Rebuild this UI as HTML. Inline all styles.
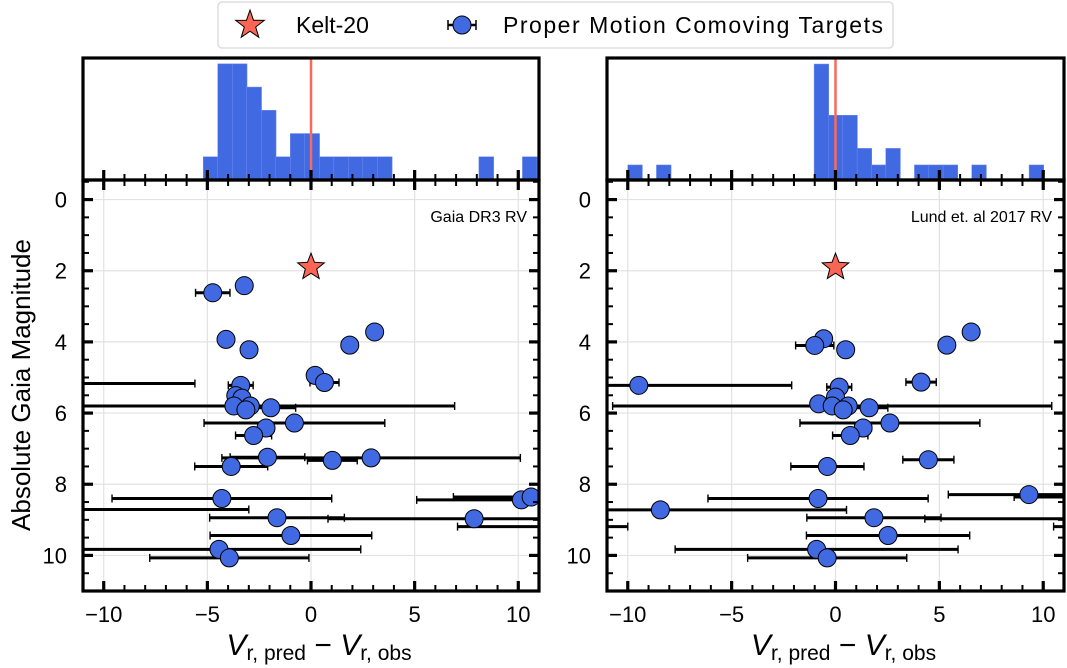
<!DOCTYPE html>
<html><head><meta charset="utf-8"><style>
html,body{margin:0;padding:0;background:#fff;}
svg{display:block;font-family:"Liberation Sans",sans-serif;}
</style></head><body>
<svg id="fig" width="1067" height="668" viewBox="0 0 1067 668" xmlns="http://www.w3.org/2000/svg">
<g>
<rect x="218" y="2" width="675" height="46" rx="4" fill="#fff" stroke="#ddd" stroke-width="1.5"/>
<polygon fill="#fa6555" stroke="#000" stroke-width="1" points="250,10 253.5,20.2 264.3,20.4 255.7,27 258.8,37.3 250,31.2 241.2,37.3 244.3,27 235.7,20.4 246.5,20.2"/>
<text x="296" y="33" font-size="23">Kelt-20</text>
<line x1="448" y1="25" x2="476" y2="25" stroke="#000" stroke-width="2.5"/>
<line x1="448" y1="20" x2="448" y2="30" stroke="#000" stroke-width="1.5"/>
<line x1="476" y1="20" x2="476" y2="30" stroke="#000" stroke-width="1.5"/>
<circle cx="462" cy="25" r="9" fill="#4169e1" stroke="#000" stroke-width="1"/>
<text x="503" y="33" font-size="23" textLength="380">Proper Motion Comoving Targets</text>
</g>
<text transform="translate(30,385) rotate(-90)" text-anchor="middle" font-size="26">Absolute Gaia Magnitude</text>
<g id="panels"></g>
</svg>
<script>
// Left panel (Gaia DR3 RV)
const leftX = [-4.74,-3.22,-4.10,-2.99,1.87,3.07,0.20,0.65,-3.39,-15,-3.63,-3.33,-2.93,-3.72,-3.14,-1.94,-0.80,-2.17,-2.77,-2.10,1.03,2.90,-3.85,-4.30,10.15,10.62,-13,-1.64,7.87,13,-0.97,-4.44,-3.94];
const leftY = [2.62,2.42,3.93,4.22,4.09,3.72,4.94,5.14,5.22,5.17,5.51,5.58,5.80,5.80,5.91,5.85,6.28,6.42,6.63,7.24,7.33,7.26,7.50,8.40,8.44,8.36,8.71,8.94,8.97,9.19,9.44,9.83,10.07];
const leftErr = [0.83,0,0,0.3,0,0,0,0.7,0.6,9.4,0,0,0.3,10.65,0,1.2,4.36,0.4,0.87,1.8,1.2,7.2,1.76,5.3,5.05,3.75,10,3.25,7.05,5.93,3.9,6.84,3.84];
const leftHistStart = -5.2;
const leftHistWidth = 0.7;
const leftHistCounts = [1,5,5,4,3,1,2,2,1,1,1,1,1,0,0,0,0,0,0,1,0,0,1,1];
// Right panel (Lund et al 2017 RV)
const rightX = [-9.47,-0.57,-1.0,0.49,5.36,6.53,4.12,0.18,0.0,-0.81,-0.16,0.61,0.37,1.62,2.62,1.33,0.71,4.47,-0.39,-0.84,9.31,12.3,-8.43,1.85,11.5,-30,30,2.53,-0.91,-0.40];
const rightY = [5.22,3.91,4.10,4.22,4.09,3.72,5.13,5.27,5.55,5.74,5.80,5.80,5.91,5.85,6.28,6.42,6.63,7.31,7.50,8.40,8.29,8.36,8.72,8.94,8.97,9.19,9.19,9.44,9.83,10.07];
const rightErr = [7.36,0,0.92,0.3,0,0,0.73,0.6,0,0,10.57,0,0,0.9,4.33,0.4,0.85,1.23,1.76,5.3,3.88,3.7,8.96,3.23,7.2,20,19.5,3.93,6.81,3.83];
const rightHistStart = -10.0;
const rightHistWidth = 0.69;
const rightHistCounts = [1,0,1,0,0,0,0,0,0,0,0,0,0,7.7,4.3,4.3,2.1,1,2.1,0,1,1,1,0,1,0,0,0,1];
const xTicks = [-10,-5,0,5,10];
const xTickLabels = ["\u221210","\u22125","0","5","10"];
const yTicks = [0,2,4,6,8,10];
const yTickLabels = ["0","2","4","6","8","10"];
const starY = 1.9, starX = 0;

const NS = "http://www.w3.org/2000/svg";
const root = document.getElementById('panels');
function mk(tag, attrs, parent){const e=document.createElementNS(NS,tag);for(const k in attrs)e.setAttribute(k,attrs[k]);(parent||root).appendChild(e);return e;}

function panel(name, L, R, xs, ys, errs, hStart, hW, hCounts, hMax, label){
  const T=180, B=591, HT=58;
  const xS = v => L + (v+11)/22*(R-L);
  const yS = v => T + (v+0.55)/11.55*(B-T);
  const hS = v => T - v/hMax*(T-HT);
  const g = mk('g',{});
  
  
  const cid = name+'clip';
  const cp = mk('clipPath',{id:cid},g); mk('rect',{x:L,y:T,width:R-L,height:B-T},cp);
  const cid2 = name+'hclip';
  const cp2 = mk('clipPath',{id:cid2},g); mk('rect',{x:L,y:HT,width:R-L,height:T-HT},cp2);
  xTicks.forEach(t=>mk('line',{x1:xS(t),x2:xS(t),y1:T,y2:B,stroke:'#e2e2e2','stroke-width':1.2},g));
  yTicks.forEach(t=>mk('line',{x1:L,x2:R,y1:yS(t),y2:yS(t),stroke:'#e2e2e2','stroke-width':1.2},g));
  const hg = mk('g',{'clip-path':'url(#'+cid2+')'},g);
  hCounts.forEach((c,i)=>{ if(c<=0) return;
    const b = mk('rect',{x:xS(hStart+i*hW),y:hS(c),width:xS(hStart+(i+1)*hW)-xS(hStart+i*hW)+0.3,height:T-hS(c),fill:'#4169e1',stroke:'#6f8fef','stroke-width':0.5},hg);
    
    
  });
  const rl = mk('line',{x1:xS(0),x2:xS(0),y1:HT,y2:T,stroke:'#fa6a5a','stroke-width':2.5},g);
  
  
  const pg = mk('g',{'clip-path':'url(#'+cid+')'},g);
  xs.forEach((x,i)=>{ const e=errs[i]; if(e>0){
    const y=yS(ys[i]);
    mk('line',{x1:xS(x-e),x2:xS(x+e),y1:y,y2:y,stroke:'#000','stroke-width':3},pg);
    mk('line',{x1:xS(x-e),x2:xS(x-e),y1:y-4,y2:y+4,stroke:'#000','stroke-width':1.4},pg);
    mk('line',{x1:xS(x+e),x2:xS(x+e),y1:y-4,y2:y+4,stroke:'#000','stroke-width':1.4},pg);
  }});
  xs.forEach((x,i)=>{
    const c = mk('circle',{cx:xS(x),cy:yS(ys[i]),r:9,fill:'#4169e1',stroke:'#000','stroke-width':1},pg);
    
    
  });
  const cx=xS(starX), cy=yS(starY), ro=14, ri=6; let pts=[];
  for(let k=0;k<10;k++){const r=k%2?ri:ro;const a=-Math.PI/2+k*Math.PI/5;pts.push((cx+r*Math.cos(a)).toFixed(1)+','+(cy+r*Math.sin(a)).toFixed(1));}
  const st = mk('polygon',{points:pts.join(' '),fill:'#fa6555',stroke:'#000','stroke-width':1},g);
  
  
  for(let v=-11; v<=11; v++){ const X=xS(v); const maj = v%5===0; const len = maj?10:6; const w=maj?3.2:2;
    mk('line',{x1:X,x2:X,y1:B,y2:B-len,stroke:'#000','stroke-width':w},g);
    mk('line',{x1:X,x2:X,y1:T,y2:T+len,stroke:'#000','stroke-width':w},g);
    mk('line',{x1:X,x2:X,y1:T,y2:T-len,stroke:'#000','stroke-width':w},g);
  }
  for(let v=-0.5; v<=11; v+=0.5){ const Y=yS(v); const maj = Math.abs(v%2)<1e-6; const len=maj?10:6; const w=maj?3.2:2;
    mk('line',{x1:L,x2:L+len,y1:Y,y2:Y,stroke:'#000','stroke-width':w},g);
    mk('line',{x1:R,x2:R-len,y1:Y,y2:Y,stroke:'#000','stroke-width':w},g);
  }
  xTicks.forEach((t,i)=>{ const tl=mk('text',{x:xS(t),y:B+31,'text-anchor':'middle','font-size':22},g); tl.textContent=xTickLabels[i];
    
     });
  yTicks.forEach((t,i)=>{ const tl=mk('text',{x:L-16,y:yS(t)+8,'text-anchor':'end','font-size':22},g); tl.textContent=yTickLabels[i];
    
     });
  mk('rect',{x:L,y:T,width:R-L,height:B-T,fill:'none',stroke:'#000','stroke-width':3.2},g);
  mk('rect',{x:L,y:HT,width:R-L,height:T-HT,fill:'none',stroke:'#000','stroke-width':3.2},g);
  const lab = mk('text',{x:R-12,y:222,'text-anchor':'end','font-size':16},g); lab.textContent=label;
  
  
  const xl = mk('text',{x:(L+R)/2+8,y:655,'text-anchor':'middle','font-size':30},g);
  xl.innerHTML='<tspan font-style="italic">V</tspan><tspan font-size="21" dy="5">r, pred</tspan><tspan dy="-5"> \u2212 </tspan><tspan font-style="italic">V</tspan><tspan font-size="21" dy="5">r, obs</tspan>';
  
  
}
panel('gaia', 83, 539, leftX, leftY, leftErr, leftHistStart, leftHistWidth, leftHistCounts, 5.25, 'Gaia DR3 RV');
panel('lund', 607, 1064, rightX, rightY, rightErr, rightHistStart, rightHistWidth, rightHistCounts, 8.1, 'Lund et. al 2017 RV');
</script>
</body></html>
